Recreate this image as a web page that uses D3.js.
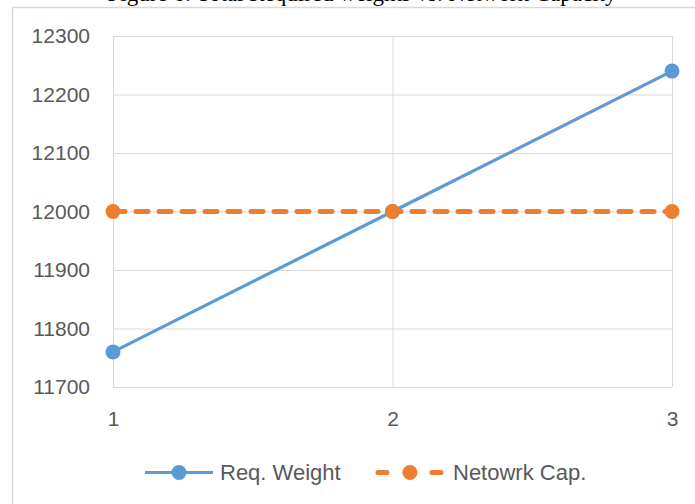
<!DOCTYPE html>
<html>
<head>
<meta charset="utf-8">
<script src="https://cdn.jsdelivr.net/npm/d3@7"></script>
<style>
  html, body { margin: 0; padding: 0; background: #fff; }
  svg { display: block; }
  .tick text { font-family: "Liberation Sans", Arial, sans-serif; font-size: 21px; fill: #595959; }
</style>
</head>
<body>
<svg id="chart" width="695" height="504"></svg>
<script>
// Run numbers on the x axis
const categories = [1, 2, 3];
// Total required weight per run
const reqWeight = [11760, 12000, 12240];
// Network capacity (constant)
const networkCap = [12000, 12000, 12000];
// Value axis ticks
const yTicks = [11700, 11800, 11900, 12000, 12100, 12200, 12300];
const seriesNames = ["Req. Weight", "Netowrk Cap."];
const titleText = "Figure 6: Total Required weights vs. Network Capacity";

const blue = "#5b9bd5", orange = "#ed7d31", grid = "#d9d9d9";

const svg = d3.select("#chart");

// Caption sitting above the chart frame
svg.append("text")
  .attr("x", 362).attr("y", 0.5)
  .attr("text-anchor", "middle")
  .attr("font-family", "'Liberation Serif', 'Times New Roman', serif")
  .attr("font-size", 23)
  .attr("fill", "#000")
  .text(titleText);

// Chart frame
svg.append("rect")
  .attr("x", 12.5).attr("y", 7.5)
  .attr("width", 720).attr("height", 540)
  .attr("fill", "#fff")
  .attr("stroke", grid).attr("stroke-width", 1.5);

const x = d3.scaleLinear().domain([1, 3]).range([113, 672]);
const y = d3.scaleLinear().domain([11700, 12300]).range([387, 36]);

// Horizontal gridlines + value labels
const yAxis = svg.append("g")
  .attr("transform", "translate(113,0)")
  .call(d3.axisLeft(y).tickValues(yTicks).tickSize(-(672 - 113)).tickPadding(23).tickFormat(d3.format("d")));
yAxis.select(".domain").remove();
yAxis.selectAll(".tick line").attr("stroke", grid).attr("stroke-width", 1);

// Vertical gridlines + category labels
const xAxis = svg.append("g")
  .attr("transform", "translate(0,387)")
  .call(d3.axisBottom(x).tickValues(categories).tickSize(-(387 - 36)).tickPadding(24).tickFormat(d3.format("d")));
xAxis.select(".domain").remove();
xAxis.selectAll(".tick line").attr("stroke", grid).attr("stroke-width", 1);

const line = d3.line().x((d, i) => x(categories[i])).y(d => y(d));

// Network capacity: dashed orange
svg.append("path")
  .datum(networkCap)
  .attr("d", line)
  .attr("fill", "none")
  .attr("stroke", orange).attr("stroke-width", 5)
  .attr("stroke-linecap", "round")
  .attr("stroke-dasharray", "12,11");

// Required weight: solid blue
svg.append("path")
  .datum(reqWeight)
  .attr("d", line)
  .attr("fill", "none")
  .attr("stroke", blue).attr("stroke-width", 3.2)
  .attr("stroke-linecap", "round");

svg.append("g").selectAll("circle")
  .data(reqWeight).join("circle")
  .attr("cx", (d, i) => x(categories[i])).attr("cy", d => y(d))
  .attr("r", 7.5).attr("fill", blue);

svg.append("g").selectAll("circle")
  .data(networkCap).join("circle")
  .attr("cx", (d, i) => x(categories[i])).attr("cy", d => y(d))
  .attr("r", 7.5).attr("fill", orange);

// Legend
const legendY = 472.5;
const legend = svg.append("g").attr("font-family", "'Liberation Sans', Arial, sans-serif")
  .attr("font-size", 22).attr("fill", "#595959");

const l1 = legend.append("g");
l1.append("line").attr("x1", 145).attr("x2", 213).attr("y1", legendY).attr("y2", legendY)
  .attr("stroke", blue).attr("stroke-width", 3.2);
l1.append("circle").attr("cx", 179).attr("cy", legendY).attr("r", 7.5).attr("fill", blue);
l1.append("text").attr("x", 220).attr("y", legendY).attr("dy", "0.35em").text(seriesNames[0]);

const l2 = legend.append("g");
l2.append("line").attr("x1", 378).attr("x2", 442).attr("y1", legendY).attr("y2", legendY)
  .attr("stroke", orange).attr("stroke-width", 5).attr("stroke-linecap", "round")
  .attr("stroke-dasharray", "9,18");
l2.append("circle").attr("cx", 410).attr("cy", legendY).attr("r", 7.5).attr("fill", orange);
l2.append("text").attr("x", 453).attr("y", legendY).attr("dy", "0.35em").text(seriesNames[1]);
</script>
</body>
</html>
